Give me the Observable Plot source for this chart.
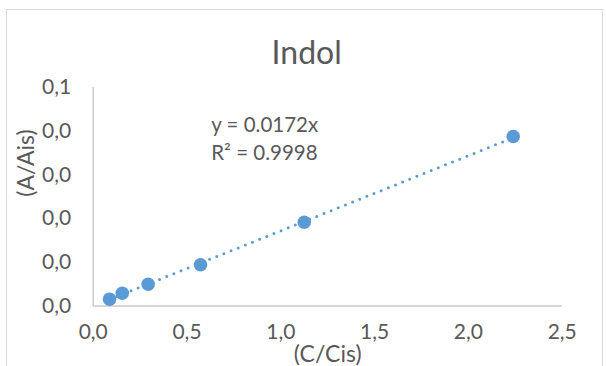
<!DOCTYPE html>
<html>
<head>
<meta charset="utf-8">
<script src="https://cdn.jsdelivr.net/npm/d3@7"></script>
<script src="https://cdn.jsdelivr.net/npm/@observablehq/plot@0.6"></script>
<style>
  html, body { margin: 0; padding: 0; background: #fff; }
  #wrap { position: relative; width: 606px; height: 366px; overflow: hidden; }
  #frame { position: absolute; left: 6px; top: 9px; width: 597px; height: 420px; border: 1px solid #d9d9d9; box-sizing: border-box; pointer-events: none; }
</style>
</head>
<body>
<div id="wrap"><div id="chart"></div><div id="frame"></div></div>
<script>
const chartTitle = "Indol";
const xLabel = "(C/Cis)";
const yLabel = "(A/Ais)";
const equationLines = ["y = 0.0172x", "R² = 0.9998"];
const slope = 0.0172;

const xValues = [0.087, 0.155, 0.293, 0.572, 1.125, 2.239];
const yValues = [0.00156, 0.00293, 0.00499, 0.00943, 0.01918, 0.0388];

const xTicks = [0, 0.5, 1.0, 1.5, 2.0, 2.5];
const xTickLabels = ["0,0", "0,5", "1,0", "1,5", "2,0", "2,5"];
const yTicks = [0, 0.01, 0.02, 0.03, 0.04, 0.05];
const yTickLabels = ["0,0", "0,0", "0,0", "0,0", "0,0", "0,1"];

const points = xValues.map((x, i) => ({x, y: yValues[i]}));
const trendX = [d3.min(xValues), d3.max(xValues)];
const trend = trendX.map(x => ({x, y: slope * x}));
const xLabelMap = new Map(xTicks.map((t, i) => [t, xTickLabels[i]]));
const yLabelMap = new Map(yTicks.map((t, i) => [t, yTickLabels[i]]));

const blue = "#5B9BD5";
const grey = "#595959";

const chart = Plot.plot({
  width: 606,
  height: 366,
  marginLeft: 92.7,
  marginRight: 44.3,
  marginTop: 87,
  marginBottom: 60.5,
  style: {fontFamily: "Lato, sans-serif", background: "white", color: grey},
  x: {domain: [0, 2.5]},
  y: {domain: [0, 0.05]},
  marks: [
    Plot.axisX({ticks: xTicks, tickFormat: d => xLabelMap.get(d), tickSize: 0, tickPadding: 18, fontSize: 21, fill: grey, label: null}),
    Plot.axisY({ticks: yTicks, tickFormat: d => yLabelMap.get(d), tickSize: 0, tickPadding: 22, fontSize: 21, fill: grey, label: null}),
    Plot.ruleY([0], {stroke: "#c8c8c8", strokeWidth: 1.4}),
    Plot.ruleX([0], {stroke: "#c8c8c8", strokeWidth: 1.4}),
    Plot.line(trend, {x: "x", y: "y", stroke: blue, strokeWidth: 3, strokeDasharray: "0 7.7", strokeLinecap: "round"}),
    Plot.dot(points, {x: "x", y: "y", r: 6.8, fill: blue, stroke: null}),
    Plot.text([chartTitle], {frameAnchor: "top", text: d => d, dx: -21, dy: -33.7, lineAnchor: "middle", fontSize: 32, fill: grey}),
    Plot.text([equationLines[0]], {frameAnchor: "top-left", text: d => d, dx: 118, dy: 38, textAnchor: "start", lineAnchor: "middle", fontSize: 20.5, fill: grey}),
    Plot.text([equationLines[1]], {frameAnchor: "top-left", text: d => d, dx: 118, dy: 66, textAnchor: "start", lineAnchor: "middle", fontSize: 20.5, fill: grey}),
    Plot.text([xLabel], {frameAnchor: "bottom", text: d => d, dy: 49, lineAnchor: "middle", fontSize: 23, fill: grey}),
    Plot.text([yLabel], {frameAnchor: "left", text: d => d, dx: -67, rotate: -90, lineAnchor: "middle", fontSize: 23, fill: grey})
  ]
});
document.getElementById("chart").appendChild(chart);
</script>
</body>
</html>
